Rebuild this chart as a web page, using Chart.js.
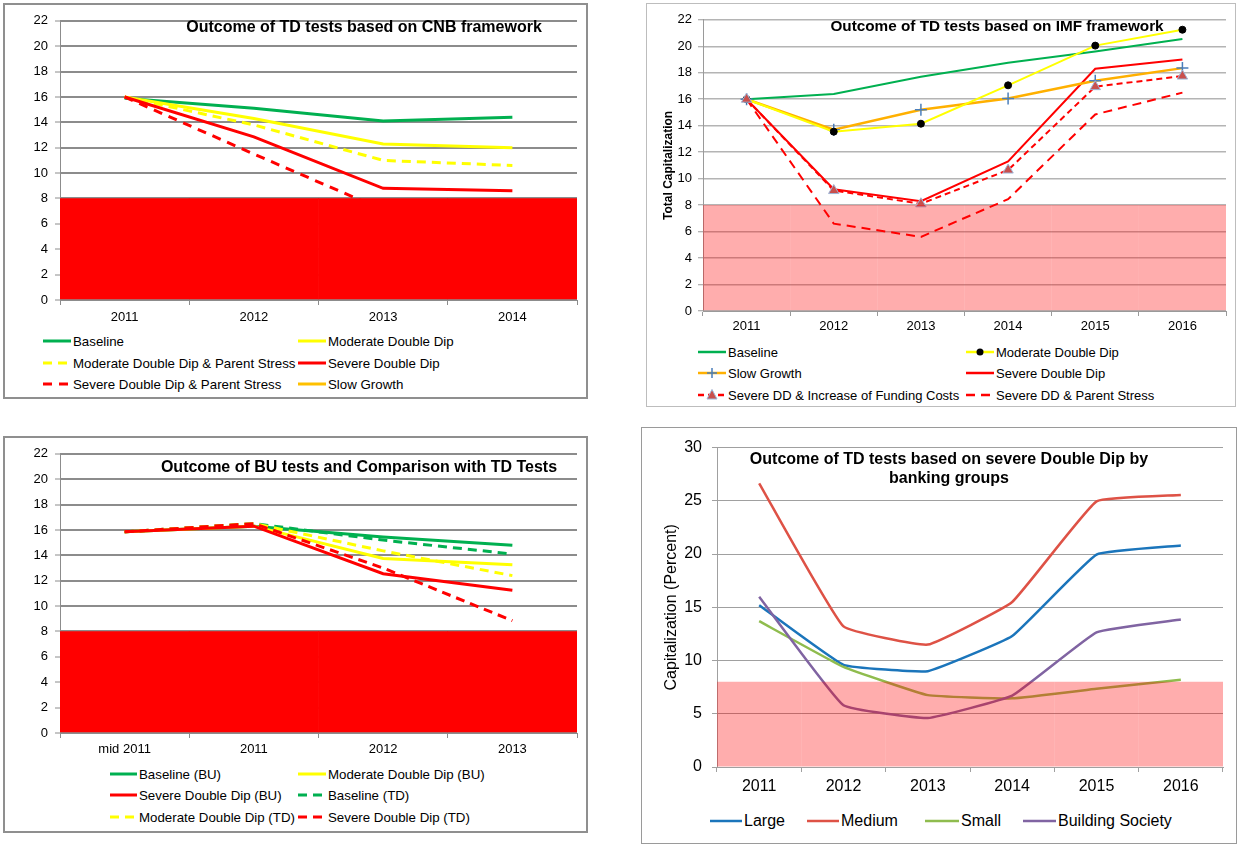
<!DOCTYPE html>
<html>
<head>
<meta charset="utf-8">
<title>Outcome of stress tests</title>
<script src="https://cdn.jsdelivr.net/npm/chart.js@4.4.0/dist/chart.umd.min.js"></script>
<style>
  body { margin: 0; width: 1238px; height: 844px; position: relative; overflow: hidden;
         background: #fff; font-family: "Liberation Sans", Arial, sans-serif; color: #000; }
  .panel { position: absolute; box-sizing: border-box; }
  canvas { position: absolute; }
  .title { position: absolute; font-weight: bold; white-space: nowrap; text-align: center;
           line-height: 1.2; transform: translate(-50%, -50%); }
  .leg { position: absolute; display: flex; align-items: center; height: 20px; white-space: nowrap; }
  .leg svg { margin-right: 2px; flex-shrink: 0; }
</style>
</head>
<body>
<div class="panel" style="left:3px;top:3px;width:585px;height:396px;border:2px solid #8f8f8f"></div>
<div class="panel" style="left:646px;top:3px;width:590px;height:404px;border:1px solid #bdbdbd"></div>
<div class="panel" style="left:3px;top:436px;width:585px;height:397px;border:2px solid #8f8f8f"></div>
<div class="panel" style="left:641px;top:427px;width:596px;height:417px;border:1px solid #9a9a9a"></div>

<canvas id="cnb" width="579" height="324" style="left:6px;top:6px"></canvas>
<canvas id="imf" width="586" height="335" style="left:648px;top:6px"></canvas>
<canvas id="bu"  width="579" height="324" style="left:6px;top:439px"></canvas>
<canvas id="grp" width="592" height="375" style="left:643px;top:428px"></canvas>

<div class="title" style="left:364px;top:27px;font-size:16px">Outcome of TD tests based on CNB framework</div>
<div class="title" style="left:997px;top:26px;font-size:15.3px">Outcome of TD tests based on IMF framework</div>
<div class="title" style="left:359px;top:467px;font-size:16px">Outcome of BU tests and Comparison with TD Tests</div>
<div class="title" style="left:949px;top:468px;font-size:16px">Outcome of TD tests based on severe Double Dip by<br>banking groups</div>

<script>
// ── Data ──────────────────────────────────────────────────────────────────────
const MIN_CAPITAL = 8;   // shaded regulatory minimum

// Top left: TD tests, CNB framework
const cnbYears          = ['2011', '2012', '2013', '2014'];
const cnbBaseline       = [15.9, 15.1, 14.1, 14.4];
const cnbModerate       = [16.0, 14.3, 12.3, 12.0];
const cnbModerateParent = [16.0, 13.8, 11.0, 10.6];
const cnbSevere         = [16.0, 12.85, 8.8, 8.6];
const cnbSevereParent   = [16.0, 11.5, 7.1, 6.8];
const cnbSlowGrowth     = [null, null, null, null];

// Top right: TD tests, IMF framework
const imfYears         = ['2011', '2012', '2013', '2014', '2015', '2016'];
const imfBaseline      = [16.0, 16.4, 17.7, 18.75, 19.6, 20.55];
const imfModerate      = [16.0, 13.55, 14.15, 17.05, 20.05, 21.25];
const imfSlowGrowth    = [16.0, 13.7, 15.2, 16.05, 17.4, 18.35];
const imfSevere        = [16.0, 9.2, 8.3, 11.3, 18.3, 19.0];
const imfSevereFunding = [16.0, 9.1, 8.1, 10.65, 16.95, 17.75];
const imfSevereParent  = [16.0, 6.6, 5.6, 8.45, 14.85, 16.5];

// Bottom left: BU tests vs TD tests
const buPeriods  = ['mid 2011', '2011', '2012', '2013'];
const buBaseline = [15.85, 16.3, 15.45, 14.8];
const buModerate = [15.85, 16.3, 13.75, 13.25];
const buSevere   = [15.85, 16.3, 12.55, 11.25];
const tdBaseline = [15.85, 16.5, 15.2, 14.1];
const tdModerate = [15.85, 16.5, 14.35, 12.4];
const tdSevere   = [15.85, 16.5, 13.0, 8.85];

// Bottom right: severe Double Dip by banking group
const groupYears    = ['2011', '2012', '2013', '2014', '2015', '2016'];
const groupLarge    = [15.2, 9.6, 9.0, 12.3, 19.95, 20.8];
const groupMedium   = [26.65, 13.2, 11.5, 15.5, 24.95, 25.55];
const groupSmall    = [13.7, 9.4, 6.75, 6.45, 7.35, 8.2];
const groupBuilding = [16.0, 5.8, 4.6, 6.7, 12.65, 13.85];

// ── Helpers ───────────────────────────────────────────────────────────────────
const FONT = '"Liberation Sans", Arial, sans-serif';

function lineDataset(s) {
  const m = s.marker;
  return {
    type: 'line', label: s.label, data: s.data,
    borderColor: s.color, backgroundColor: s.color,
    borderWidth: s.width, borderDash: s.dash || [],
    pointRadius: m ? m.radius : 0,
    pointStyle: m ? m.style : 'circle',
    pointBackgroundColor: m ? m.fill : s.color,
    pointBorderColor: m ? m.stroke : s.color,
    pointBorderWidth: m ? m.strokeWidth : 0,
    tension: s.tension || 0,
    order: s.order,
  };
}

function bandDataset(labels, color, order, inflate) {
  return {
    type: 'bar', label: 'minimum', data: labels.map(() => MIN_CAPITAL),
    backgroundColor: color, borderWidth: 0,
    barPercentage: 1, categoryPercentage: 1, inflateAmount: inflate, order,
  };
}

function buildScales(o) {
  const tickFont = { family: FONT, size: o.fontSize };
  return {
    x: {
      offset: true,
      grid: { offset: true, drawOnChartArea: false, drawTicks: true, tickLength: 5,
              color: o.tickColor, lineWidth: 1 },
      border: { display: true, color: o.tickColor },
      ticks: { color: '#000', font: tickFont, padding: o.xPad, maxRotation: 0, autoSkip: false },
      afterFit: s => { s.height = o.xHeight; },
    },
    y: {
      min: 0, max: o.max,
      ticks: { stepSize: o.step, color: '#000', font: tickFont, padding: o.yPad },
      grid: { color: o.gridColor, lineWidth: o.gridWidth, tickLength: 5,
              tickColor: o.tickColor, tickWidth: 1 },
      border: { display: true, color: o.tickColor, width: 1 },
      title: o.yTitle
        ? { display: true, text: o.yTitle, color: '#000', font: o.yTitleFont,
            padding: { top: o.yTitlePad, bottom: 0 } }
        : { display: false },
      afterFit: s => { s.width = o.yWidth; },
    },
  };
}

function makeChart(id, labels, datasets, scaleOpts, padding) {
  return new Chart(document.getElementById(id), {
    type: 'line',
    data: { labels, datasets },
    options: {
      responsive: false, animation: false, events: [],
      layout: { padding },
      plugins: { legend: { display: false }, tooltip: { enabled: false } },
      scales: buildScales(scaleOpts),
    },
  });
}

// HTML legend, one item per series, placed at [x, centreY, lineLength]
function buildLegend(series, places, fontSize) {
  series.forEach((s, i) => {
    const [x, y, len] = places[i];
    const mid = len / 2, m = s.marker;
    let mark = '';
    if (m && m.style === 'circle') {
      mark = `<circle cx="${mid}" cy="7" r="${m.radius}" fill="${m.fill}"/>`;
    } else if (m && m.style === 'cross') {
      mark = `<path d="M${mid - 5} 7H${mid + 5}M${mid} 2V12" stroke="${m.stroke}" stroke-width="${m.strokeWidth}"/>`;
    } else if (m && m.style === 'triangle') {
      mark = `<polygon points="${mid},1.5 ${mid + 5},11 ${mid - 5},11" fill="${m.fill}" stroke="${m.stroke}" stroke-width="1"/>`;
    }
    const dash = s.dash ? `stroke-dasharray="${s.dash.join(' ')}"` : '';
    const el = document.createElement('div');
    el.className = 'leg';
    el.style.left = x + 'px';
    el.style.top = (y - 10) + 'px';
    el.style.fontSize = fontSize + 'px';
    el.innerHTML =
      `<svg width="${len}" height="14"><line x1="0" y1="7" x2="${len}" y2="7" stroke="${s.color}" ` +
      `stroke-width="${Math.max(s.width, 2.5)}" ${dash}/>${mark}</svg><span>${s.label}</span>`;
    document.body.appendChild(el);
  });
}

// ── Top left: CNB framework ───────────────────────────────────────────────────
const cnbSeries = [
  { label: 'Baseline', data: cnbBaseline, color: '#00B050', width: 3, order: 5 },
  { label: 'Moderate Double Dip', data: cnbModerate, color: '#FFFF00', width: 3, order: 4 },
  { label: 'Moderate Double Dip & Parent Stress', data: cnbModerateParent, color: '#FFFF00', width: 3, dash: [9, 6], order: 3 },
  { label: 'Severe Double Dip', data: cnbSevere, color: '#FF0000', width: 3, order: 2 },
  { label: 'Severe Double Dip & Parent Stress', data: cnbSevereParent, color: '#FF0000', width: 3, dash: [9, 7], order: 1 },
  { label: 'Slow Growth', data: cnbSlowGrowth, color: '#FFC000', width: 3, order: 6 },
];
makeChart('cnb', cnbYears,
  [...cnbSeries.map(lineDataset), bandDataset(cnbYears, '#FF0000', 20, 'auto')],
  { max: 22, step: 2, fontSize: 13, gridColor: '#8c8c8c', gridWidth: 2, tickColor: '#8c8c8c',
    xPad: 5, yPad: 7, xHeight: 30, yWidth: 54 },
  { top: 11, right: 8, left: 0, bottom: 0 });
buildLegend(cnbSeries, [
  [43, 341, 28], [298, 341, 28],
  [43, 363, 28], [298, 363, 28],
  [43, 384, 28], [298, 384, 28],
], 13.3);

// ── Top right: IMF framework ──────────────────────────────────────────────────
const imfSeries = [
  { label: 'Baseline', data: imfBaseline, color: '#00B050', width: 2, order: 6 },
  { label: 'Moderate Double Dip', data: imfModerate, color: '#FFFF00', width: 2, order: 2,
    marker: { style: 'circle', radius: 3.5, fill: '#000', stroke: '#000', strokeWidth: 1 } },
  { label: 'Slow Growth', data: imfSlowGrowth, color: '#FFB000', width: 2.5, order: 3,
    marker: { style: 'cross', radius: 6, fill: '#4A7EBB', stroke: '#4A7EBB', strokeWidth: 1.5 } },
  { label: 'Severe Double Dip', data: imfSevere, color: '#FF0000', width: 2, order: 4 },
  { label: 'Severe DD & Increase of Funding Costs', data: imfSevereFunding, color: '#FF0000', width: 2, dash: [6, 4], order: 1,
    marker: { style: 'triangle', radius: 6, fill: '#C9504D', stroke: '#9DB6D8', strokeWidth: 1 } },
  { label: 'Severe DD & Parent Stress', data: imfSevereParent, color: '#FF0000', width: 2, dash: [9, 6], order: 5 },
];
makeChart('imf', imfYears,
  [...imfSeries.map(lineDataset), bandDataset(imfYears, 'rgba(255,0,0,0.32)', 0, 0)],
  { max: 22, step: 2, fontSize: 13, gridColor: '#b4b4b4', gridWidth: 1.5, tickColor: '#9a9a9a',
    xPad: 3, yPad: 6, xHeight: 30, yWidth: 55,
    yTitle: 'Total Capitalization', yTitleFont: { family: FONT, size: 12, weight: 'bold' }, yTitlePad: 13 },
  { top: 9, right: 8, left: 0, bottom: 0 });
buildLegend(imfSeries, [
  [698, 352, 28], [966, 352, 28],
  [698, 373, 28], [966, 373, 28],
  [698, 395, 28], [966, 395, 28],
], 13);

// ── Bottom left: BU tests vs TD tests ─────────────────────────────────────────
const buSeries = [
  { label: 'Baseline (BU)', data: buBaseline, color: '#00B050', width: 3, order: 6 },
  { label: 'Moderate Double Dip (BU)', data: buModerate, color: '#FFFF00', width: 3, order: 5 },
  { label: 'Severe Double Dip (BU)', data: buSevere, color: '#FF0000', width: 3, order: 2 },
  { label: 'Baseline (TD)', data: tdBaseline, color: '#00B050', width: 3, dash: [9, 6], order: 4 },
  { label: 'Moderate Double Dip (TD)', data: tdModerate, color: '#FFFF00', width: 3, dash: [9, 6], order: 3 },
  { label: 'Severe Double Dip (TD)', data: tdSevere, color: '#FF0000', width: 3, dash: [9, 6], order: 1 },
];
makeChart('bu', buPeriods,
  [...buSeries.map(lineDataset), bandDataset(buPeriods, '#FF0000', 20, 'auto')],
  { max: 22, step: 2, fontSize: 13, gridColor: '#8c8c8c', gridWidth: 2, tickColor: '#8c8c8c',
    xPad: 4, yPad: 7, xHeight: 30, yWidth: 54 },
  { top: 11, right: 8, left: 0, bottom: 0 });
buildLegend(buSeries, [
  [110, 774, 27], [298, 774, 28],
  [110, 795, 27], [298, 795, 28],
  [110, 817, 27], [298, 817, 28],
], 13.3);

// ── Bottom right: banking groups ──────────────────────────────────────────────
const groupSeries = [
  { label: 'Large', data: groupLarge, color: '#1B75BB', width: 2.5, tension: 0.1, order: 4 },
  { label: 'Medium', data: groupMedium, color: '#DE5246', width: 2.5, tension: 0.1, order: 3 },
  { label: 'Small', data: groupSmall, color: '#8FBC4E', width: 2.5, tension: 0.1, order: 2 },
  { label: 'Building Society', data: groupBuilding, color: '#8064A2', width: 2.5, tension: 0.1, order: 1 },
];
makeChart('grp', groupYears,
  [...groupSeries.map(lineDataset), bandDataset(groupYears, 'rgba(255,0,0,0.32)', 0, 0)],
  { max: 30, step: 5, fontSize: 16, gridColor: '#a0a0a0', gridWidth: 1, tickColor: '#a0a0a0',
    xPad: 5, yPad: 10, xHeight: 36, yWidth: 74,
    yTitle: 'Capitalization (Percent)', yTitleFont: { family: FONT, size: 16 }, yTitlePad: 19 },
  { top: 18, right: 12, left: 0, bottom: 0 });
buildLegend(groupSeries, [
  [710, 821, 32], [807, 821, 32], [925, 821, 34], [1023, 821, 33],
], 16);
</script>
</body>
</html>
